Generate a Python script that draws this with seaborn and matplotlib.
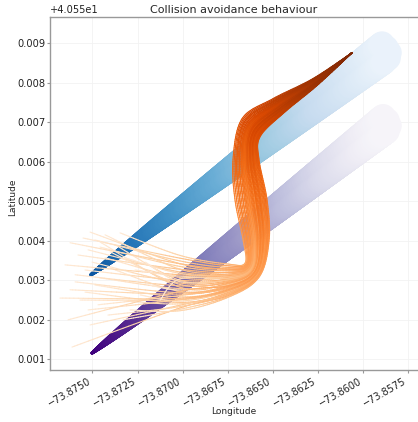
import numpy as np
import pandas as pd
import matplotlib
matplotlib.use("Agg")
import matplotlib.pyplot as plt
from matplotlib.colors import ListedColormap
from matplotlib.collections import LineCollection
from matplotlib.ticker import FixedLocator, ScalarFormatter
import seaborn as sns

# Vessel A (blue): departure point and fanned arrival positions
blue_start = (-73.87508, 40.55314)
blue_end_lon = [-73.85895, -73.85873, -73.85856, -73.85861, -73.85884]
blue_end_lat = [40.55898, 40.55888, 40.55876, 40.55863, 40.55853]

# Vessel B (purple)
purple_start = (-73.87502, 40.55116)
purple_end_lon = [-73.85889, -73.85867, -73.85856, -73.85867, -73.85889]
purple_end_lat = [40.55714, 40.55704, 40.55691, 40.55678, 40.55671]

# Give-way vessel (orange): start positions of each run and its lane in the bundle
orange_start_lon = [-73.87613, -73.87513, -73.87330, -73.87569, -73.87624, -73.87486,
                    -73.87458, -73.87596, -73.87541, -73.87402, -73.87652, -73.87502,
                    -73.87430, -73.87580, -73.87524, -73.87458, -73.87375, -73.87624,
                    -73.87486, -73.87552, -73.87430, -73.87347, -73.87513, -73.87458,
                    -73.87402, -73.87596, -73.87541, -73.87680, -73.87358, -73.87292,
                    -73.87236, -73.87181, -73.87469, -73.87414, -73.87264, -73.87319,
                    -73.87208, -73.87524, -73.87635, -73.87125]
orange_start_lat = [40.55131, 40.55187, 40.55200, 40.55250, 40.55276, 40.55288,
                    40.55306, 40.55314, 40.55326, 40.55331, 40.55339, 40.55346,
                    40.55357, 40.55364, 40.55377, 40.55384, 40.55390, 40.55395,
                    40.55402, 40.55407, 40.55415, 40.55420, 40.55422, 40.55397,
                    40.55372, 40.55296, 40.55270, 40.55255, 40.55250, 40.55225,
                    40.55263, 40.55288, 40.55238, 40.55212, 40.55326, 40.55357,
                    40.55346, 40.55225, 40.55200, 40.55250]
orange_lane = [0.9, 0.8, 0.95, 0.6, 0.4, 0.5, 0.2, 0.1, -0.1, 0.3, -0.3, 0.0,
               -0.2, -0.5, -0.4, -0.6, -0.1, -0.7, -0.8, -0.9, -0.5, -1.0, -0.7, 0.15,
               0.05, 0.35, 0.7, 0.55, 0.75, 1.0, 0.65, 0.25, 0.45, 0.85, -0.25, -0.35,
               -0.05, 0.6, 0.3, -0.15]

# Shared avoidance route of the bundle and the lateral spread at each waypoint
route_lon = [-73.87015, -73.86748, -73.86615, -73.86593, -73.86621, -73.86649,
             -73.86621, -73.86471, -73.86266, -73.86061]
route_lat = [40.55293, 40.55299, 40.55326, 40.55402, 40.55503, 40.55605,
             40.55686, 40.55741, 40.55802, 40.55876]
spread_lon = [0.0, 0.0, 0.000388, 0.000721, 0.000887, 0.000721, 0.000499, 0.000299, 0.000133, 0.0]
spread_lat = [-0.000700, -0.000420, -0.000177, 0.0, 0.0, 0.0, -0.000228, -0.000182, -0.000081, 0.0]

x_ticks = [-73.8750, -73.8725, -73.8700, -73.8675, -73.8650, -73.8625, -73.8600, -73.8575]
y_ticks = [40.551, 40.552, 40.553, 40.554, 40.555, 40.556, 40.557, 40.558, 40.559]

sns.set_theme(style="whitegrid")
plt.rcParams["font.family"] = ["DejaVu Sans"]

fig = plt.figure(figsize=(4.18, 4.22), dpi=100)
ax = fig.add_axes([50 / 418, 52 / 422, 368 / 418, 353.3 / 422])
ax.set_xlim(-73.87735, -73.85696)
ax.set_ylim(40.55073, 40.55967)


def truncated(name, lo, hi):
    return ListedColormap(plt.get_cmap(name)(np.linspace(lo, hi, 256)))


def tapered_track(start, end_lon, end_lat, cmap, n=420):
    frames = []
    for k, (ex, ey) in enumerate(zip(end_lon, end_lat)):
        t = np.linspace(0.0, 1.0, n)
        frames.append(pd.DataFrame({
            "lon": start[0] + (ex - start[0]) * t,
            "lat": start[1] + (ey - start[1]) * t,
            "t": t,
            "run": k,
        }))
    df = pd.concat(frames, ignore_index=True).sort_values(["t", "run"])
    sns.scatterplot(data=df, x="lon", y="lat", hue="t", size="t",
                    palette=cmap, hue_norm=(0, 1), sizes=(5, 330), size_norm=(0, 1),
                    linewidth=0, legend=False, ax=ax, zorder=2)


def smooth_path(px, py, n=24):
    pts = np.column_stack([px, py])
    p = np.vstack([pts[0], pts, pts[-1]])
    out = []
    t = np.linspace(0, 1, n, endpoint=False)[:, None]
    for i in range(1, len(p) - 2):
        p0, p1, p2, p3 = p[i - 1], p[i], p[i + 1], p[i + 2]
        out.append(0.5 * (2 * p1 + (-p0 + p2) * t
                          + (2 * p0 - 5 * p1 + 4 * p2 - p3) * t ** 2
                          + (-p0 + 3 * p1 - 3 * p2 + p3) * t ** 3))
    out.append(pts[-1][None])
    return np.vstack(out)


tapered_track(blue_start, blue_end_lon, blue_end_lat, truncated("Blues", 0.85, 0.07))
tapered_track(purple_start, purple_end_lon, purple_end_lat, truncated("Purples", 1.0, 0.06))

orange_cmap = truncated("Oranges", 0.1, 1.0)
r_lon = np.array(route_lon)
r_lat = np.array(route_lat)
s_lon = np.array(spread_lon)
s_lat = np.array(spread_lat)
for x0, y0, lane in zip(orange_start_lon, orange_start_lat, orange_lane):
    wx = np.concatenate([[x0], r_lon + lane * s_lon])
    wy = np.concatenate([[y0], r_lat + lane * s_lat])
    path = smooth_path(wx, wy)
    disp = ax.transData.transform(path)
    seg_len = np.hypot(*np.diff(disp, axis=0).T)
    frac = np.concatenate([[0], np.cumsum(seg_len)]) / seg_len.sum()
    segs = np.stack([path[:-1], path[1:]], axis=1)
    lc = LineCollection(segs, colors=orange_cmap(0.5 * (frac[:-1] + frac[1:])),
                        linewidths=0.8, capstyle="round", zorder=3)
    ax.add_collection(lc)

ax.set_xlim(-73.87735, -73.85696)
ax.set_ylim(40.55073, 40.55967)
ax.xaxis.set_major_locator(FixedLocator(x_ticks))
ax.yaxis.set_major_locator(FixedLocator(y_ticks))
ax.xaxis.set_major_formatter(ScalarFormatter(useOffset=False))
ax.yaxis.set_major_formatter(ScalarFormatter(useOffset=True))

ax.set_title("Collision avoidance behaviour", fontsize=8, pad=3)
ax.set_xlabel("Longitude", fontsize=6.5)
ax.set_ylabel("Latitude", fontsize=6.5)
ax.xaxis.set_label_coords(0.5, -0.105)
ax.yaxis.set_label_coords(-0.088, 0.49)
ax.tick_params(axis="x", labelsize=7.0, length=2.4, width=0.8, colors="#999999",
               labelcolor="#222222", pad=2.0, bottom=True)
ax.tick_params(axis="y", labelsize=7.1, length=2.2, width=0.8, colors="#999999",
               labelcolor="#222222", pad=1.2, left=True)
for lbl in ax.get_xticklabels():
    lbl.set_rotation(30)
    lbl.set_ha("right")
ax.yaxis.get_offset_text().set_fontsize(7.1)
ax.grid(True, color="#f2f2f2", linewidth=0.6)
ax.set_facecolor("white")
for side in ["left", "bottom", "top"]:
    ax.spines[side].set_color("#999999")
    ax.spines[side].set_linewidth(1.0)
ax.spines["right"].set_visible(False)

fig.savefig("out.png", dpi=100, facecolor="white")
